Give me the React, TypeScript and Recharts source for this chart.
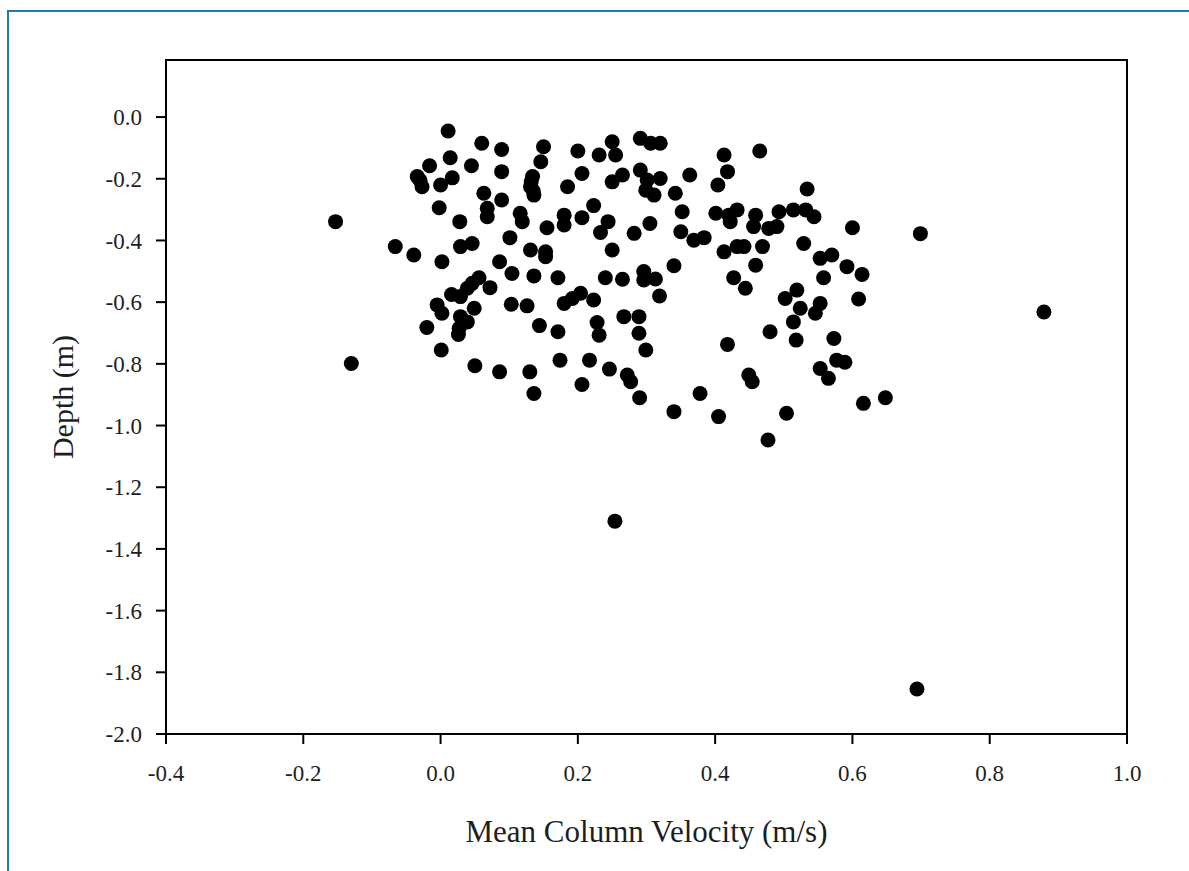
import {
  ScatterChart,
  Scatter,
  XAxis,
  YAxis,
  ReferenceArea,
  Label,
} from 'recharts';

// [velocity (m/s), depth (m)]
const westCluster: [number, number][] = [
  [0.011, -0.045], [0.06, -0.085], [0.089, -0.105], [0.014, -0.132], [0.045, -0.158], [0.089, -0.177],
  [-0.016, -0.158], [-0.034, -0.193], [-0.027, -0.226], [0.0, -0.22], [0.017, -0.197], [-0.03, -0.205],
  [0.063, -0.247], [0.089, -0.269], [0.068, -0.296], [0.068, -0.323], [-0.002, -0.294], [0.028, -0.339],
  [-0.153, -0.339], [0.101, -0.391], [-0.066, -0.42], [-0.039, -0.447], [0.029, -0.42], [0.046, -0.41],
  [0.002, -0.469], [0.086, -0.469], [0.104, -0.507], [0.056, -0.521], [0.046, -0.539], [0.039, -0.555],
  [0.072, -0.553], [0.016, -0.575], [0.029, -0.582], [-0.005, -0.609], [0.002, -0.636], [0.049, -0.62],
  [0.029, -0.647], [0.039, -0.664], [0.027, -0.685], [-0.02, -0.682], [0.026, -0.705], [0.103, -0.607],
  [0.001, -0.755], [-0.13, -0.799], [0.05, -0.806], [0.086, -0.826],
];

const centralCluster: [number, number][] = [
  [0.15, -0.096], [0.146, -0.145], [0.134, -0.193], [0.131, -0.226], [0.136, -0.253], [0.132, -0.21],
  [0.135, -0.24], [0.2, -0.11], [0.206, -0.183], [0.185, -0.226], [0.231, -0.123], [0.25, -0.08],
  [0.255, -0.123], [0.291, -0.069], [0.306, -0.085], [0.32, -0.085], [0.25, -0.21], [0.265, -0.188],
  [0.291, -0.172], [0.301, -0.204], [0.32, -0.199], [0.299, -0.237], [0.311, -0.253], [0.342, -0.247],
  [0.363, -0.188], [0.116, -0.312], [0.119, -0.339], [0.155, -0.359], [0.18, -0.318], [0.18, -0.35],
  [0.206, -0.326], [0.223, -0.287], [0.244, -0.339], [0.233, -0.374], [0.25, -0.431], [0.282, -0.377],
  [0.305, -0.345], [0.352, -0.307], [0.35, -0.372], [0.369, -0.399], [0.384, -0.391], [0.131, -0.431],
  [0.153, -0.437], [0.153, -0.453], [0.136, -0.515], [0.171, -0.521], [0.24, -0.521], [0.265, -0.526],
  [0.296, -0.501], [0.296, -0.528], [0.313, -0.525], [0.34, -0.482], [0.319, -0.58], [0.126, -0.612],
  [0.18, -0.604], [0.192, -0.588], [0.204, -0.571], [0.223, -0.593], [0.144, -0.676], [0.171, -0.696],
  [0.228, -0.666], [0.231, -0.707], [0.267, -0.647], [0.289, -0.647], [0.289, -0.701], [0.299, -0.755],
  [0.174, -0.788], [0.217, -0.788], [0.246, -0.817], [0.272, -0.836], [0.277, -0.858], [0.13, -0.826],
  [0.136, -0.896], [0.206, -0.867], [0.29, -0.91], [0.34, -0.955], [0.378, -0.896],
];

const eastCluster: [number, number][] = [
  [0.413, -0.123], [0.465, -0.11], [0.418, -0.177], [0.404, -0.22], [0.534, -0.233],
  [0.401, -0.312], [0.42, -0.318], [0.432, -0.301], [0.422, -0.339], [0.459, -0.318], [0.456, -0.355],
  [0.478, -0.361], [0.49, -0.355], [0.493, -0.307], [0.514, -0.301], [0.532, -0.301], [0.544, -0.323],
  [0.6, -0.359], [0.529, -0.41], [0.413, -0.437], [0.432, -0.42], [0.442, -0.42], [0.469, -0.42],
  [0.459, -0.48], [0.553, -0.458], [0.57, -0.447], [0.558, -0.521], [0.592, -0.485], [0.614, -0.51],
  [0.427, -0.521], [0.444, -0.555], [0.609, -0.59], [0.519, -0.561], [0.502, -0.588], [0.524, -0.62],
  [0.514, -0.664], [0.553, -0.604], [0.546, -0.636], [0.48, -0.696], [0.418, -0.737], [0.518, -0.723],
  [0.573, -0.718], [0.577, -0.788], [0.589, -0.795], [0.553, -0.815], [0.565, -0.847], [0.449, -0.836],
  [0.454, -0.858], [0.616, -0.928], [0.648, -0.91], [0.504, -0.96], [0.405, -0.971], [0.477, -1.047],
];

const outliers: [number, number][] = [
  [0.699, -0.378], [0.879, -0.632], [0.254, -1.31], [0.694, -1.854],
];

const xTicks = [-0.4, -0.2, 0.0, 0.2, 0.4, 0.6, 0.8, 1.0];
const yTicks = [0.0, -0.2, -0.4, -0.6, -0.8, -1.0, -1.2, -1.4, -1.6, -1.8, -2.0];

const data = [...westCluster, ...centralCluster, ...eastCluster, ...outliers].map(([v, d]) => ({
  velocity: v,
  depth: d,
}));

const font = '"Liberation Serif", "Times New Roman", serif';
const tickStyle = { fontSize: 23, fill: '#1e1e1e', fontFamily: font };

const Dot = (props: any) => <circle cx={props.cx} cy={props.cy} r={7.5} fill="#000" />;

export default function App() {
  return (
    <div
      style={{
        position: 'absolute',
        left: 0,
        top: 0,
        width: 1189,
        height: 871,
        overflow: 'hidden',
        background: '#fff',
      }}
    >
      <div
        style={{
          position: 'absolute',
          left: 7,
          top: 10,
          width: 1300,
          height: 1000,
          border: '2px solid #2379b0',
        }}
      />
      <div style={{ position: 'absolute', left: 0, top: 0 }}>
        <ScatterChart width={1189} height={871} margin={{ top: 60, right: 62, bottom: 0, left: 36 }}>
          <ReferenceArea
            x1={-0.4}
            x2={1.0}
            y1={-2.0}
            y2={0.185}
            fill="none"
            stroke="#000"
            strokeWidth={2}
            ifOverflow="visible"
          />
          <XAxis
            type="number"
            dataKey="velocity"
            domain={[-0.4, 1.0]}
            ticks={xTicks}
            allowDataOverflow
            height={137}
            tickSize={10}
            tickMargin={21}
            tickFormatter={(v: number) => v.toFixed(1)}
            tick={tickStyle}
            axisLine={{ stroke: '#000', strokeWidth: 2 }}
            tickLine={{ stroke: '#000', strokeWidth: 2 }}
          >
            <Label
              value="Mean Column Velocity (m/s)"
              position="insideBottom"
              offset={29}
              style={{ fontSize: 31, fill: '#1e1e1e', fontFamily: font }}
            />
          </XAxis>
          <YAxis
            type="number"
            dataKey="depth"
            domain={[-2.0, 0.185]}
            ticks={yTicks}
            allowDataOverflow
            width={130}
            tickSize={10}
            tickMargin={14}
            tickFormatter={(v: number) => v.toFixed(1)}
            tick={tickStyle}
            axisLine={{ stroke: '#000', strokeWidth: 2 }}
            tickLine={{ stroke: '#000', strokeWidth: 2 }}
          >
            <Label
              value="Depth (m)"
              angle={-90}
              position="insideLeft"
              offset={26}
              style={{ fontSize: 30, fill: '#1e1e1e', fontFamily: font, textAnchor: 'middle' }}
            />
          </YAxis>
          <Scatter data={data} shape={Dot} isAnimationActive={false} />
        </ScatterChart>
      </div>
    </div>
  );
}
